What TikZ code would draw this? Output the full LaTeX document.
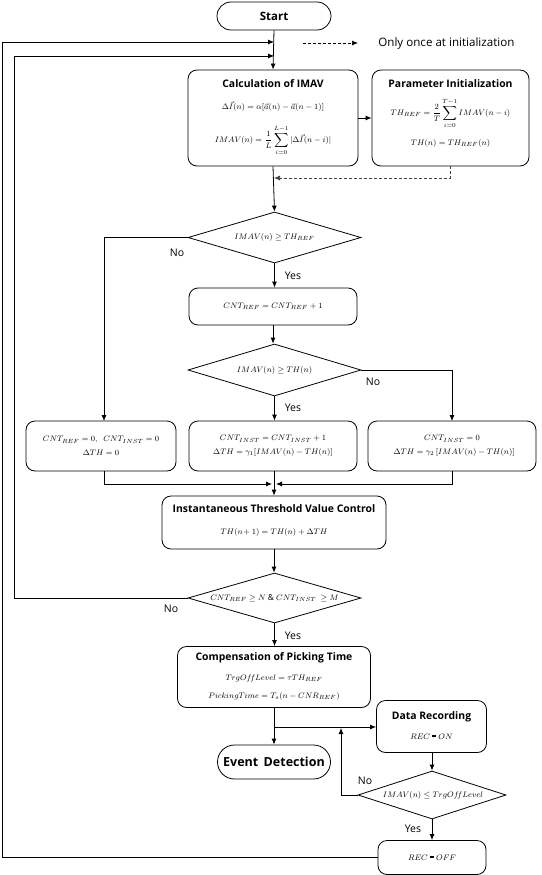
\documentclass[tikz,border=0pt]{standalone}
\usepackage{fontspec}
\setmainfont{Open Sans}
\usetikzlibrary{shapes.geometric,arrows.meta}
\newcommand{\thickeq}{\mathbin{\rule[0.55ex]{4.5pt}{1.8pt}}}
\begin{document}
\begin{tikzpicture}[x=1pt,y=-1pt,
  line width=0.8pt,
  arr/.style={-{Latex[length=6pt,width=5pt]}},
  box/.style={draw,rounded corners=9pt,align=center,inner sep=2pt},
  dia/.style={draw,diamond,inner sep=0pt,aspect=3.4},
  ttl/.style={font=\bfseries\fontsize{10.4}{12}\selectfont,inner sep=0pt},
  mth/.style={font=\fontsize{8.3}{10}\selectfont,inner sep=0pt},
  yn/.style={font=\fontsize{10.5}{12}\selectfont,inner sep=0pt}
]
\useasboundingbox (0,0) rectangle (541,875);
% start
\node[draw,rounded corners=14pt,minimum width=114pt,minimum height=28pt,font=\bfseries\fontsize{11.5}{13}\selectfont] (start) at (274,16) {Start};
% legend
\coordinate (lg1) at (303,43);
\coordinate (lg2) at (358,43);
\draw[arr,densely dashed,line width=0.7pt] (lg1) -- (lg2);
\node[anchor=west,font=\fontsize{11.6}{13}\selectfont,inner sep=0pt] (lgt) at (378,43) {Only once at initialization};
% calculation
\node[box,minimum width=170pt,minimum height=96pt] (calc) at (273,118) {};
\node[ttl] (calct) at (273,84) {Calculation of IMAV};
\node[mth] (calc1) at (273,107) {$\Delta\vec{I}(n)=\alpha[\vec{a}(n)-\vec{a}(n-1)]$};
\node[mth] (calc2) at (273,140) {$IMAV(n)=\displaystyle\frac{1}{L}\sum_{i=0}^{L-1}|\Delta\vec{I}(n-i)|$};
% param
\node[box,minimum width=157pt,minimum height=96pt] (param) at (450.5,118) {};
\node[ttl] (paramt) at (450.5,84) {Parameter Initialization};
\node[mth] (param1) at (450.5,113) {$TH_{REF}=\displaystyle\frac{2}{T}\sum_{i=0}^{T-1}IMAV(n-i)$};
\node[mth] (param2) at (450.5,143) {$TH(n)=TH_{REF}(n)$};
% loop entry coordinates
\coordinate (e1) at (274,42);
\coordinate (e2) at (274,56);
\coordinate (dj) at (274,178);
\draw[arr] (start.south) -- (calc.north);
\draw[arr] (calc.east) -- (param.west);
\draw[arr,densely dashed,line width=0.7pt,draw=black!75] (param.south) |- (dj);
% decision 1
\node[dia,minimum width=173pt,minimum height=51pt] (d1) at (274.5,237.5) {};
\node[mth] (d1t) at (274.5,237.5) {$IMAV(n)\geq TH_{REF}$};
\draw[arr] (calc.south) -- (d1.north);
\node[box,minimum width=168pt,minimum height=37pt] (cntref) at (273,306.5) {};
\node[mth] (cntreft) at (273,306.5) {$CNT_{REF}=CNT_{REF}+1$};
\draw[arr] (d1.south) -- (d1.south |- cntref.north);
\node[yn] (y1) at (293,276) {Yes};
% decision 2
\node[dia,minimum width=173pt,minimum height=52pt] (d2) at (274.5,370) {};
\node[mth] (d2t) at (274.5,370) {$IMAV(n)\geq TH(n)$};
\draw[arr] (cntref.south) -- (cntref.south |- d2.north);
% three boxes
\node[box,minimum width=150pt,minimum height=50pt] (bl) at (101,446) {};
\node[mth,align=center] (blt) at (101,446) {$CNT_{REF}=0,\;\ CNT_{INST}=0$\\[4pt]$\Delta TH=0$};
\node[box,minimum width=168pt,minimum height=50pt] (bm) at (273,446) {};
\node[mth,align=center] (bmt) at (273,446) {$CNT_{INST}=CNT_{INST}+1$\\[4pt]$\Delta TH=\gamma_1[IMAV(n)-TH(n)]$};
\node[box,minimum width=168pt,minimum height=50pt] (br) at (452,446) {};
\node[mth,align=center] (brt) at (452,446) {$CNT_{INST}=0$\\[4pt]$\ \ \Delta TH=\gamma_2\,[IMAV(n)-TH(n)]$};
\draw[arr] (d1.west) -| (104,421);
\node[yn] (n1) at (177,253) {No};
\draw[arr] (d2.south) -- (d2.south |- bm.north);
\node[yn] (y2) at (293,408) {Yes};
\draw[arr] (d2.east) -| (452,421);
\node[yn] (n2) at (373,382) {No};
% ITVC
\node[box,minimum width=224pt,minimum height=53pt] (itvc) at (274,522.5) {};
\node[ttl] (itvct) at (274,509) {Instantaneous Threshold Value Control};
\node[mth] (itvc1) at (274,532) {$TH(n\!+1)=TH(n)+\Delta TH$};
\coordinate (m1) at (272,484);
\coordinate (m2) at (276,484);
\draw[arr] (104,471) |- (m1);
\draw[arr] (452,471) |- (m2);
\draw[arr] (274,471) -- (itvc.north);
% decision 3
\node[dia,minimum width=173pt,minimum height=50pt] (d3) at (274.5,598) {};
\node[mth] (d3t) at (274.5,598) {$CNT_{REF}\geq N\ \&\ CNT_{INST}\ \geq M$};
\draw[arr] (itvc.south) -- (itvc.south |- d3.north);
\draw[arr] (d3.west) -- (14,598) |- (e2);
\node[yn] (n3) at (171,609) {No};
% compensation
\node[box,minimum width=193pt,minimum height=61pt] (comp) at (274,677) {};
\node[ttl] (compt) at (274,658) {Compensation of Picking Time};
\node[mth] (comp1) at (274,678) {$TrgOf\!f Level=\tau TH_{REF}$};
\node[mth] (comp2) at (274,696) {$PickingTime=T_s(n-CNR_{REF})$};
\draw[arr] (d3.south) -- (d3.south |- comp.north);
\node[yn] (y3) at (293,636) {Yes};
% event
\node[draw,rounded corners=17pt,minimum width=113pt,minimum height=34pt,font=\bfseries\fontsize{12.5}{14}\selectfont] (event) at (274,762) {Event\,  Detection};
\draw[arr] (comp.south) -- (event.north);
% data recording
\node[box,minimum width=110pt,minimum height=52pt] (data) at (431.5,726.5) {};
\node[ttl] (datat) at (431.5,717) {Data Recording};
\node[mth] (data1) at (431.5,737) {$REC\thickeq ON$};
\coordinate (j) at (274,727);
\draw[arr] (j) -- (j -| data.west);
% decision 4
\node[dia,minimum width=148pt,minimum height=48pt] (d4) at (432,795) {};
\node[mth] (d4t) at (433,795) {$IMAV(n)\leq TrgOf\!f Level$};
\draw[arr] (data.south -| d4.north) -- (d4.north);
\draw[arr] (d4.west) -- (341,795) -- (341,728);
\node[yn] (n4) at (365,781) {No};
% rec off
\node[box,minimum width=108pt,minimum height=34pt] (recoff) at (432,857.5) {};
\node[mth] (recofft) at (432,857.5) {$REC\thickeq OFF$};
\draw[arr] (d4.south) -- (recoff.north);
\node[yn] (y4) at (413,829) {Yes};
\draw[arr] (recoff.west) -- (2,857.5) |- (e1);
\end{tikzpicture}
\end{document}
